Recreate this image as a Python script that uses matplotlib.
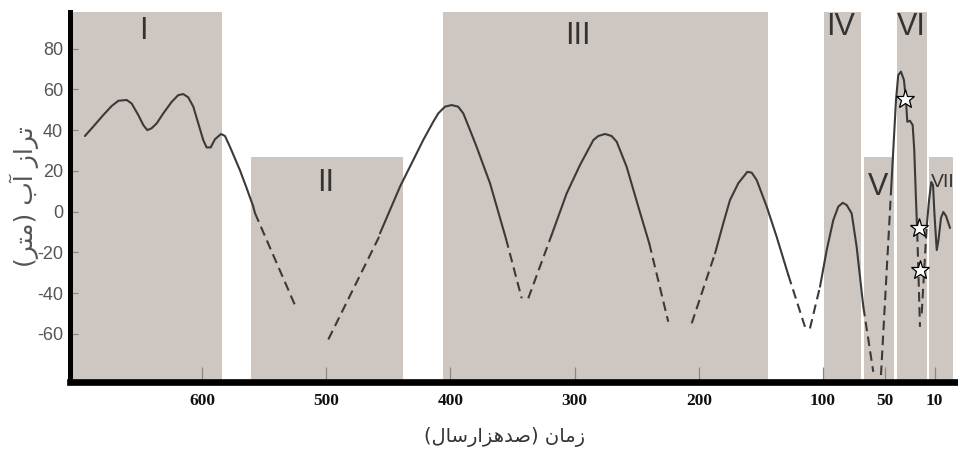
import matplotlib
matplotlib.use("Agg")
import matplotlib.pyplot as plt
from matplotlib.ticker import FixedLocator

# ---------------- data ----------------
# shaded stages (time in 100 ka, older on the left)
stage_labels = ["I", "II", "III", "IV", "V", "VI", "VII"]
stage_start = [710, 560.3, 405.8, 99.0, 66.7, 40.0, 14.9]
stage_end = [584.0, 438.1, 144.4, 69.1, 43.2, 16.5, -5.0]
stage_top = [98, 26.8, 98, 98, 26.8, 98, 26.8]
label_t = [647.6, 500.2, 297.3, 85.5, 55.7, 28.7, -6.0]
label_v = [88.7, 14.0, 86.4, 90.4, 12.0, 90.4, 14.5]

# solid (well-constrained) parts of the water-level curve
solid_A_t = [694.3, 687.6, 679.5, 672.8, 667.4, 660.7, 656.7, 651.3, 647.3, 644.1, 640.6,
             636.5, 631.2, 624.4, 619.1, 615.1, 611.1, 607.0, 603.0, 599.0, 596.3, 593.0,
             589.6, 584.7, 581.5, 577.5, 569.4, 564.0, 558.7, 557.4]
solid_A_v = [37.1, 41.7, 47.4, 51.8, 54.4, 54.8, 53.1, 47.4, 42.5, 40.0, 40.9,
             43.3, 48.2, 53.9, 57.2, 57.7, 56.1, 51.5, 43.3, 35.1, 31.5, 31.5,
             35.5, 38.1, 37.1, 31.8, 20.2, 11.4, 2.4, -0.7]
solid_D_t = [456.7, 440.6, 429.9, 421.9, 413.8, 409.8, 404.4, 399.0, 393.7, 389.6, 384.2,
             378.9, 373.5, 368.1, 361.5, 355.3]
solid_D_v = [-10.7, 12.2, 25.3, 35.1, 44.1, 48.2, 51.5, 52.3, 51.5, 48.2, 40.0,
             31.8, 22.8, 13.9, -0.1, -13.2]
solid_G_t = [318.5, 306.4, 295.7, 284.9, 280.9, 275.5, 270.2, 266.1, 258.1, 248.7, 239.9]
solid_G_v = [-11.5, 8.9, 22.8, 35.1, 37.1, 38.1, 37.1, 34.3, 22.0, 2.4, -15.6]
solid_J_t = [186.9, 180.3, 174.9, 168.2, 160.9, 157.4, 153.4, 145.3, 137.3, 127.9]
solid_J_v = [-20.5, -5.8, 5.6, 13.9, 19.5, 19.1, 15.5, 2.4, -12.4, -31.2]
solid_M_t = [102.4, 97.0, 91.7, 87.7, 84.1, 80.9, 76.9, 72.9, 67.5]
solid_M_v = [-36.9, -18.9, -4.2, 2.4, 4.3, 3.2, -0.9, -17.3, -46.8]
solid_P_t = [45.3, 43.4, 41.2, 39.4, 37.2, 34.8, 33.2, 32.1, 30.0, 27.8, 26.5, 25.1, 24.1]
solid_P_v = [8.9, 30.2, 54.8, 67.0, 68.7, 64.6, 54.8, 44.1, 44.6, 42.5, 30.2, 5.6, -10.1]
solid_S_t = [16.5, 14.6, 12.8, 11.4, 10.2, 8.4, 7.0, 5.0, 3.1, 0.9, -2.3]
solid_S_v = [-7.5, 5.6, 14.5, 13.0, -1.7, -18.9, -14.0, -3.2, -0.2, -2.2, -8.1]

# dashed (inferred) parts: start/end points
dash_t0 = [557.4, 498.3, 355.3, 337.3, 239.9, 205.7, 127.9, 110.5, 67.5, 53.3, 24.1, 20.5]
dash_v0 = [-0.7, -62.8, -13.2, -42.6, -15.6, -54.9, -31.2, -57.4, -46.8, -80.3, -10.1, -50.0]
dash_t1 = [525.2, 456.7, 342.6, 318.5, 224.6, 186.9, 114.5, 102.4, 59.5, 45.3, 21.9, 16.5]
dash_v1 = [-45.9, -11.5, -42.6, -11.5, -54.1, -20.5, -56.6, -36.9, -78.7, 8.9, -56.6, -7.5]

# star markers
star_t = [33.9, 22.5, 21.9]
star_v = [55.3, -8.1, -28.7]

x_ticks = [600, 500, 400, 300, 200, 100, 50, 10]
x_ticklabels = ["600", "500", "400", "300", "200", "100", "50", "10"]
y_ticks = [80, 60, 40, 20, 0, -20, -40, -60]
y_ticklabels = ["80", "60", "40", "20", "0", "-20", "-40", "-60"]

# Persian labels (pre-shaped, visual order)
ylabel_text = "(\uFEAE\uFE98\uFEE3) \uFE8F\uFE81 \uFEAF\uFE8D\uFEAE\uFE97"          # تراز آب (متر)
xlabel_text = "(\uFEDD\uFE8E\uFEB3\uFEAD\uFE8D\uFEB0\uFEEB\uFEAA\uFEBB) \uFEE5\uFE8E\uFEE3\uFEAF"  # زمان (صدهزارسال)

# ---------------- styling ----------------
shade = "#cec6c1"
line_c = "#3a3a3a"
lw = 1.5

fig = plt.figure(figsize=(9.58, 4.63), dpi=100)
ax = fig.add_axes([70 / 958, 1 - 382 / 463, 885 / 958, 370 / 463])
ax.set_xlim(706.3, -6.3)
ax.set_ylim(-83.7, 98.0)

ymin = -83.7
for s, e, top in zip(stage_start, stage_end, stage_top):
    ax.fill_between([s, e], [ymin, ymin], [top, top], color=shade, lw=0, zorder=0)

for lab, t, v in zip(stage_labels, label_t, label_v):
    if lab == "VII":
        ax.text(t, v, lab, ha="right", va="center", fontsize=14, color="#333333",
                family=["Liberation Sans"], clip_on=False, zorder=2)
    else:
        ax.text(t, v, lab, ha="center", va="center", fontsize=22, color="#333333",
                family=["Liberation Sans"], clip_on=False, zorder=2)

for tt, vv in [(solid_A_t, solid_A_v), (solid_D_t, solid_D_v), (solid_G_t, solid_G_v),
               (solid_J_t, solid_J_v), (solid_M_t, solid_M_v), (solid_P_t, solid_P_v),
               (solid_S_t, solid_S_v)]:
    ax.plot(tt, vv, color=line_c, lw=lw, solid_capstyle="round", solid_joinstyle="round", zorder=3)

for t0, v0, t1, v1 in zip(dash_t0, dash_v0, dash_t1, dash_v1):
    ax.plot([t0, t1], [v0, v1], color=line_c, lw=lw, linestyle=(0, (4.6, 2.6)), zorder=3)

ax.plot(star_t, star_v, linestyle="none", marker="*", markersize=14,
        markerfacecolor="white", markeredgecolor="black", markeredgewidth=0.9, zorder=4)

# spines
for sp in ["top", "right"]:
    ax.spines[sp].set_visible(False)
ax.spines["left"].set_linewidth(3.6)
ax.spines["bottom"].set_linewidth(4.8)
ax.spines["left"].set_color("black")
ax.spines["bottom"].set_color("black")

ax.xaxis.set_major_locator(FixedLocator(x_ticks))
ax.set_xticklabels(x_ticklabels)
ax.yaxis.set_major_locator(FixedLocator(y_ticks))
ax.set_yticklabels(y_ticklabels)

ax.tick_params(axis="x", direction="in", length=11, width=0.9, color="#888888", pad=8,
               labelsize=12.5, labelcolor="#111111")
ax.tick_params(axis="y", direction="in", length=6, width=0.9, color="#888888", pad=5,
               labelsize=13, labelcolor="#555555")
for lab in ax.get_xticklabels():
    lab.set_family(["Liberation Serif"])
    lab.set_fontweight("bold")
for lab in ax.get_yticklabels():
    lab.set_family(["Liberation Sans"])

fig.text(24 / 958, 1 - 197 / 463, ylabel_text, rotation=90, ha="center", va="center",
         fontsize=18, color="#555555", family=["DejaVu Sans"])
fig.text(505 / 958, 1 - 437 / 463, xlabel_text, ha="center", va="center",
         fontsize=14, color="#333333", family=["DejaVu Sans"])

fig.savefig("out.png", dpi=100)
